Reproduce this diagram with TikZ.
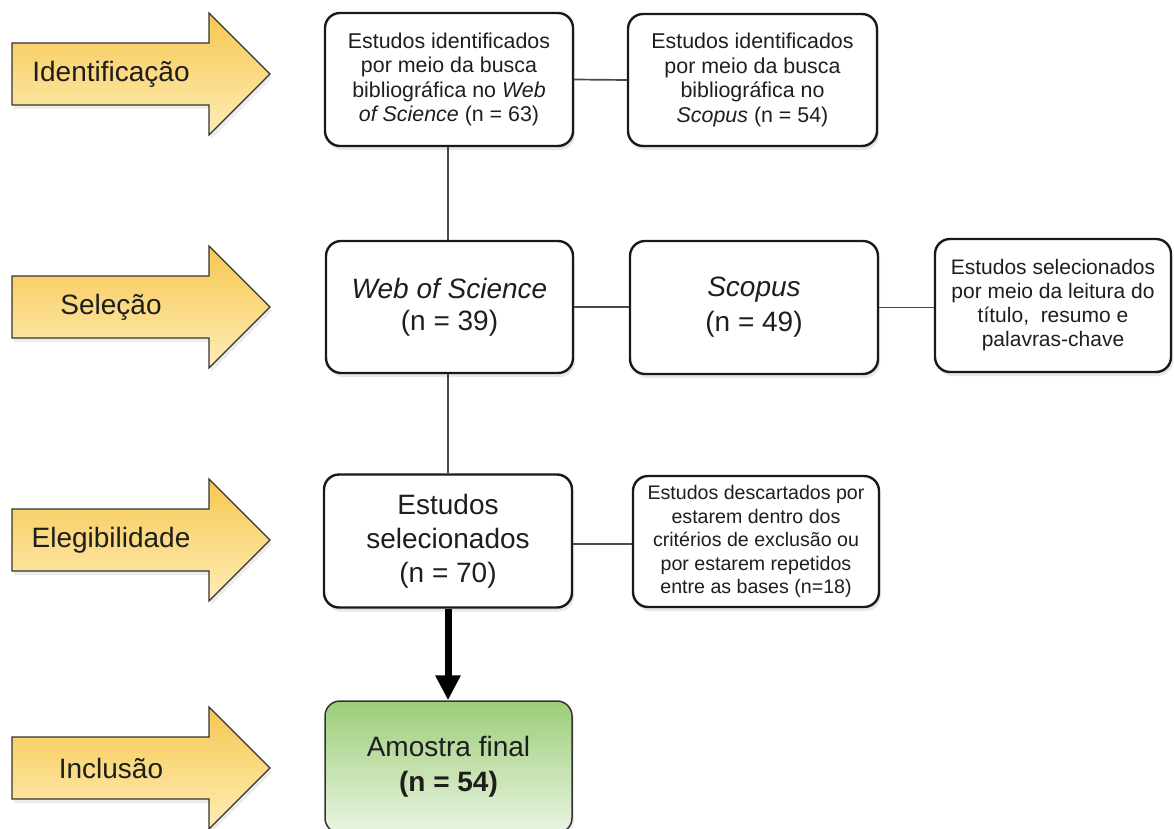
\documentclass[tikz,border=0pt]{standalone}
\usepackage{fontspec}
\setmainfont{Liberation Sans}
\usetikzlibrary{shadows,arrows.meta}
\definecolor{txt}{HTML}{1E1E1E}
\definecolor{arrtop}{RGB}{247,199,80}
\definecolor{arrbot}{RGB}{254,237,182}
\definecolor{grtop}{RGB}{156,205,120}
\definecolor{grbot}{RGB}{234,245,226}
\definecolor{linkc}{HTML}{4A4A4A}
\newcommand{\stagearrow}[3]{%
  \draw[stage] (12,#1-31) -- (209,#1-31) -- (209,#1-61) -- (270,#1) -- (209,#1+61) -- (209,#1+31) -- (12,#1+31) -- cycle;
  \node[stagelabel] (#2) at (111,#1) {#3};
}
\begin{document}
\begin{tikzpicture}[x=1pt,y=-1pt,
  box/.style={draw=black!90, line width=2.4pt, rounded corners=15pt, fill=white,
    align=center, text=txt, inner sep=0pt,
    drop shadow={shadow xshift=2pt, shadow yshift=-4pt, opacity=0.18}},
  linkline/.style={draw=linkc, line width=1.7pt},
  stage/.style={draw=black!80, line width=1.2pt, top color=arrtop, bottom color=arrbot,
    drop shadow={shadow xshift=2pt, shadow yshift=-4pt, opacity=0.15}},
  stagelabel/.style={text=txt, font=\fontsize{28}{32}\selectfont, inner sep=0pt}]
\useasboundingbox (0,0) rectangle (1174,829);

% stage arrows
\stagearrow{74}{sid}{Identificação}
\stagearrow{307}{ssel}{Seleção}
\stagearrow{540}{seleg}{Elegibilidade}
\stagearrow{768}{sinc}{Inclusão}

% boxes
\node[box, minimum width=248pt, minimum height=133pt, font=\fontsize{21.4}{24.6}\selectfont]
  (A) at (449,79.5) {Estudos identificados\\por meio da busca\\bibliográfica no \textit{Web}\\\textit{of Science} (n = 63)};
\node[box, minimum width=249pt, minimum height=132pt, font=\fontsize{21.4}{24.6}\selectfont]
  (B) at (752.5,80) {Estudos identificados\\por meio da busca\\bibliográfica no\\\textit{Scopus} (n = 54)};
\node[box, minimum width=247pt, minimum height=132pt, font=\fontsize{28}{32}\selectfont]
  (C) at (449.5,307) {\textit{Web of Science}\\(n = 39)};
\node[box, minimum width=248pt, minimum height=133pt, font=\fontsize{28}{35}\selectfont]
  (D) at (754,307.5) {\textit{Scopus}\\(n = 49)};
\node[box, minimum width=236pt, minimum height=133pt, font=\fontsize{21}{24}\selectfont]
  (E) at (1053,305.5) {Estudos selecionados\\por meio da leitura do\\título,~ resumo e\\palavras-chave};
\node[box, minimum width=248pt, minimum height=133pt, font=\fontsize{28}{34}\selectfont]
  (F) at (448,541) {Estudos\\selecionados\\(n = 70)};
\node[box, minimum width=246pt, minimum height=131pt, font=\fontsize{19.6}{23.5}\selectfont]
  (G) at (756,541.5) {Estudos descartados por\\estarem dentro dos\\critérios de exclusão ou\\por estarem repetidos\\entre as bases (n=18)};
\node[draw=black!80, line width=1.5pt, rounded corners=15pt, top color=grtop, bottom color=grbot,
  align=center, text=txt, inner sep=0pt, minimum width=247pt, minimum height=132pt,
  font=\fontsize{28}{35}\selectfont,
  drop shadow={shadow xshift=2pt, shadow yshift=-4pt, opacity=0.15}]
  (H) at (448.5,767) {Amostra final\\\textbf{(n = 54)}};

% connectors
\draw[linkline] (A.east) -- (B.west);
\draw[linkline] (A.south -| 448,0) -- (C.north -| 448,0);
\draw[linkline] (C.east) -- (C.east -| D.west);
\draw[linkline] (D.east) -- (D.east -| E.west);
\draw[linkline] (C.south -| 448,0) -- (F.north -| 448,0);
\draw[linkline] (F.east |- 0,544) -- (G.west |- 0,544);
\draw[line width=7pt, -{Triangle[width=24pt,length=25pt]}] (F.south -| 448,0) -- (H.north -| 448,0);
\end{tikzpicture}
\end{document}
